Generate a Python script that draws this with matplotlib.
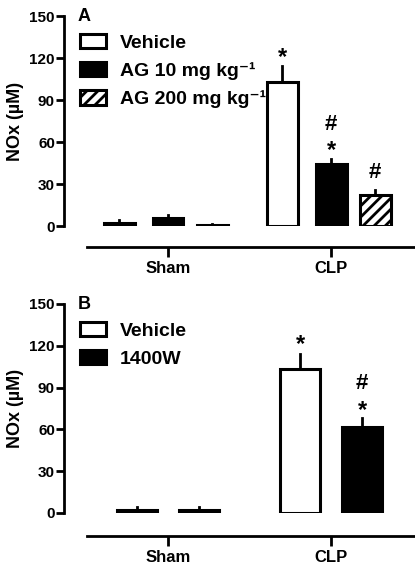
import matplotlib
matplotlib.use('Agg')
import matplotlib.pyplot as plt
import numpy as np

plt.rcParams['font.family'] = ['Liberation Sans', 'DejaVu Sans']
plt.rcParams['font.weight'] = 'bold'
plt.rcParams['hatch.linewidth'] = 2.0

groups = ['Sham', 'CLP']

# panel A
a_labels = ['Vehicle', 'AG 10 mg kg⁻¹', 'AG 200 mg kg⁻¹']
a_means = [[2.5, 103.0], [6.0, 44.0], [1.0, 22.0]]
a_err = [[1.5, 11.0], [2.0, 4.0], [0.5, 4.0]]
a_marks = [['', '*'], ['', '#*'], ['', '#']]

# panel B
b_labels = ['Vehicle', '1400W']
b_means = [[2.5, 103.0], [2.5, 62.0]]
b_err = [[1.5, 11.0], [1.5, 6.0]]
b_marks = [['', '*'], ['', '#*']]

yticks = [0, 30, 60, 90, 120, 150]

fig = plt.figure(figsize=(4.15, 5.64), dpi=100)


def panel(rect, letter, labels, means, errs, marks, offsets, width, styles, out):
    ax = fig.add_axes(rect)
    x = np.arange(len(groups))
    for i, lab in enumerate(labels):
        fc, hatch = styles[i]
        xs = x + offsets[i]
        ax.bar(xs, means[i], width, color=fc, edgecolor='black',
               linewidth=2.2, hatch=hatch, label=lab, zorder=2)
        for xx, m, e, mk in zip(xs, means[i], errs[i], marks[i]):
            ax.plot([xx, xx], [m, m + e], color='black', lw=2, zorder=1)
            both = len(mk) == 2
            if '*' in mk:
                ax.annotate('*', (xx, m + e), xytext=(0, 1 if both else 2),
                            textcoords='offset points', ha='center', va='baseline',
                            fontsize=17)
            if '#' in mk:
                ax.annotate('#', (xx, m + e), xytext=(0, 21 if both else 8),
                            textcoords='offset points', ha='center', va='baseline',
                            fontsize=16)
    ax.set_ylim(0, 150)
    ax.set_xlim(-0.638, 1.515)
    ax.set_yticks(yticks)
    ax.set_xticks(x)
    ax.set_xticklabels(groups)
    for s in ['top', 'right']:
        ax.spines[s].set_visible(False)
    ax.spines['left'].set_linewidth(2)
    ax.spines['bottom'].set_linewidth(2)
    ax.spines['bottom'].set_position(('outward', out))
    ax.spines['bottom'].set_bounds(-0.497, 1.515)
    ax.tick_params(axis='y', width=2, length=5.5, labelsize=11, pad=1)
    ax.tick_params(axis='x', width=2, length=7, labelsize=12, pad=3.5)
    ax.set_ylabel('NOx (µM)', fontsize=13, fontweight='bold', labelpad=4)
    ax.text(0.04, 1.04, letter, transform=ax.transAxes, fontsize=13,
            fontweight='bold', va='top')
    ax.legend(loc='upper left', bbox_to_anchor=(0.045, 0.915), frameon=False,
              fontsize=14, handlelength=1.34, handleheight=0.77,
              labelspacing=0.52, handletextpad=0.72, borderaxespad=0,
              borderpad=0)
    return ax


panel([64 / 415, 1 - 226 / 564, 1 - 64 / 415, 210 / 564], 'A',
      a_labels, a_means, a_err, a_marks, [-0.3, 0.0, 0.27], 0.19,
      [('white', None), ('black', None), ('white', '///')], 15)
panel([64 / 415, 1 - 513 / 564, 1 - 64 / 415, 209 / 564], 'B',
      b_labels, b_means, b_err, b_marks, [-0.19, 0.19], 0.25,
      [('white', None), ('black', None)], 16.5)

fig.savefig('out.png', dpi=100)
